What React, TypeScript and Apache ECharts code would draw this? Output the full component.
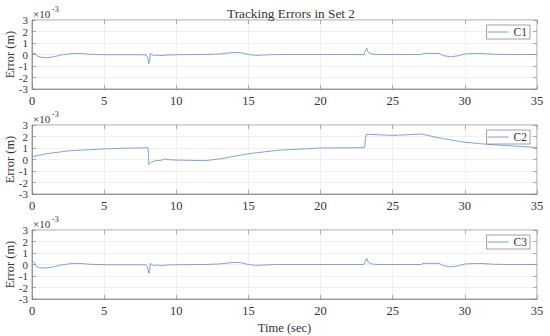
import React, { useEffect, useRef } from "react";
import * as echarts from "echarts";

const TITLE = "Tracking Errors in Set 2";
const X_LABEL = "Time (sec)";
const Y_LABEL = "Error (m)";
const SERIES_NAMES = ["C1", "C2", "C3"];
const X_TICKS = [0, 5, 10, 15, 20, 25, 30, 35];
const Y_TICKS = [-3, -2, -1, 0, 1, 2, 3];

// values in units of 1e-3 m
const C1_T = [0, 0.2, 0.4, 0.7, 1.0, 1.5, 2.0, 2.5, 3.0, 3.5, 4.0, 5.0, 6.0, 7.0, 7.9, 8.0, 8.1, 8.15, 8.2, 8.3, 8.5, 8.7, 9.0, 9.3, 10, 12, 13, 14, 14.5, 15, 15.5, 16, 17, 20, 23, 23.1, 23.2, 23.3, 23.5, 24, 27, 27.1, 28.2, 28.5, 29, 29.5, 30, 31, 32, 33, 35];
const C1_V = [0.1, 0.08, -0.15, -0.25, -0.28, -0.2, -0.05, 0.05, 0.1, 0.08, 0.02, -0.02, -0.02, -0.02, -0.03, -0.2, -0.78, -0.6, 0.1, 0.0, -0.1, -0.05, -0.1, -0.05, -0.02, 0.0, 0.05, 0.18, 0.15, 0.0, -0.08, -0.05, 0.0, 0.0, 0.0, 0.3, 0.55, 0.2, 0.05, 0.0, 0.0, 0.1, 0.1, -0.1, -0.2, -0.12, 0.05, 0.1, 0.02, 0.0, 0.0];

const C2_T = [0, 1, 2.5, 5, 7, 8.05, 8.1, 8.2, 8.3, 8.6, 9.0, 9.2, 9.5, 10, 12, 13, 15, 17, 20, 23.05, 23.15, 23.3, 24, 25, 26, 27, 28, 29, 30, 31, 32, 33, 35];
const C2_V = [0.25, 0.5, 0.75, 0.92, 1.0, 1.02, -0.45, -0.3, -0.2, -0.1, -0.05, 0.05, -0.02, -0.05, -0.1, 0.05, 0.5, 0.8, 1.0, 1.03, 2.15, 2.2, 2.15, 2.1, 2.15, 2.22, 1.93, 1.7, 1.5, 1.38, 1.28, 1.2, 1.05];

const C3_T = [0, 0.1, 0.2, 0.3, 0.5, 1.0, 1.5, 2.0, 2.5, 3.0, 3.5, 4.0, 5.0, 6.0, 7.0, 7.9, 8.0, 8.1, 8.15, 8.2, 8.3, 8.5, 8.7, 9.0, 9.3, 10, 12, 13, 14, 14.5, 15, 15.5, 16, 17, 20, 23, 23.1, 23.2, 23.3, 23.5, 24, 27, 27.1, 28.2, 28.5, 29, 29.5, 30, 31, 32, 33, 35];
const C3_V = [0.15, 0.25, 0.1, -0.15, -0.28, -0.3, -0.2, -0.05, 0.05, 0.1, 0.08, 0.02, -0.02, -0.02, -0.02, -0.03, -0.2, -0.78, -0.6, 0.1, 0.0, -0.1, -0.05, -0.1, -0.05, -0.02, 0.0, 0.05, 0.18, 0.15, 0.0, -0.08, -0.05, 0.0, 0.0, 0.0, 0.3, 0.55, 0.2, 0.05, 0.0, 0.0, 0.1, 0.1, -0.1, -0.2, -0.12, 0.05, 0.1, 0.02, 0.0, 0.0];

const SERIES_T = [C1_T, C2_T, C3_T];
const SERIES_V = [C1_V, C2_V, C3_V];

const FONT = "'Liberation Serif', 'Times New Roman', serif";
const TEXT_COLOR = "#333333";
const LINE_AXIS = "#7a7a7a";
const LINE_COLOR = "#6f9ad0";
const GRID_TOPS = [20, 125, 230];
const GRID_H = 69;
const GRID_LEFT = 32;
const GRID_RIGHT = 13;

export default function App() {
  const ref = useRef<HTMLDivElement>(null);
  useEffect(() => {
    if (!ref.current) return;
    const chart = echarts.init(ref.current, undefined, { renderer: "svg" });

    const grids: any[] = [];
    const xAxes: any[] = [];
    const yAxes: any[] = [];
    const series: any[] = [];
    const legends: any[] = [];
    const graphics: any[] = [];

    const tick = { show: true, inside: true, length: 4, lineStyle: { color: LINE_AXIS, width: 0.6 } };

    GRID_TOPS.forEach((top, i) => {
      grids.push({
        left: GRID_LEFT,
        right: GRID_RIGHT,
        top,
        height: GRID_H,
        show: true,
        borderColor: LINE_AXIS,
        borderWidth: 0.7,
        backgroundColor: "#fff",
        containLabel: false,
        outerBoundsMode: "none",
      });
      xAxes.push({
        type: "value",
        gridIndex: i,
        min: X_TICKS[0],
        max: X_TICKS[X_TICKS.length - 1],
        interval: 5,
        axisLine: { show: true, onZero: false, lineStyle: { color: LINE_AXIS, width: 0.7 } },
        axisTick: tick,
        axisLabel: { color: TEXT_COLOR, fontFamily: FONT, fontSize: 12.5, margin: 5, showMinLabel: true, showMaxLabel: true },
        splitLine: { show: true, lineStyle: { color: "#e6e6e6", width: 0.6 } },
        name: i === 2 ? X_LABEL : "",
        nameLocation: "middle",
        nameGap: 22,
        nameMoveOverlap: false,
        nameTextStyle: { color: TEXT_COLOR, fontFamily: FONT, fontSize: 12.5 },
      });
      xAxes.push({
        type: "value",
        gridIndex: i,
        position: "top",
        min: X_TICKS[0],
        max: X_TICKS[X_TICKS.length - 1],
        interval: 5,
        axisLine: { show: false, onZero: false },
        axisTick: tick,
        axisLabel: { show: false },
        splitLine: { show: false },
      });
      yAxes.push({
        type: "value",
        gridIndex: i,
        min: Y_TICKS[0],
        max: Y_TICKS[Y_TICKS.length - 1],
        interval: 1,
        axisLine: { show: true, onZero: false, lineStyle: { color: LINE_AXIS, width: 0.7 } },
        axisTick: tick,
        axisLabel: {
          color: TEXT_COLOR, fontFamily: FONT, fontSize: 11, lineHeight: 9, margin: 4,
          showMinLabel: true, showMaxLabel: true, hideOverlap: false,
        },
        splitLine: { show: true, lineStyle: { color: "#e6e6e6", width: 0.6 } },
      });
      yAxes.push({
        type: "value",
        gridIndex: i,
        position: "right",
        min: Y_TICKS[0],
        max: Y_TICKS[Y_TICKS.length - 1],
        interval: 1,
        axisLine: { show: false, onZero: false },
        axisTick: tick,
        axisLabel: { show: false },
        splitLine: { show: false },
      });
      const t = SERIES_T[i];
      const v = SERIES_V[i];
      series.push({
        name: SERIES_NAMES[i],
        type: "line",
        xAxisIndex: i * 2,
        yAxisIndex: i * 2,
        data: t.map((x, k) => [x, v[k]]),
        showSymbol: false,
        symbol: "none",
        lineStyle: { color: LINE_COLOR, width: 0.9 },
        itemStyle: { color: LINE_COLOR },
      });
      legends.push({
        data: [{ name: SERIES_NAMES[i], icon: "path://M0,0 L20,0 L20,0.9 L0,0.9 Z" }],
        right: 20,
        top: top + 5,
        orient: "vertical",
        backgroundColor: "#fff",
        borderColor: LINE_AXIS,
        borderWidth: 0.7,
        borderRadius: 0,
        padding: [1, 3, 1, 1],
        itemWidth: 21,
        itemHeight: 10,
        itemGap: 4,
        textStyle: { color: TEXT_COLOR, fontFamily: FONT, fontSize: 11.5 },
      });
      graphics.push({
        type: "text",
        x: 10,
        y: top + GRID_H / 2,
        rotation: Math.PI / 2,
        style: { text: Y_LABEL, fill: TEXT_COLOR, font: `12.5px ${FONT}`, align: "center", verticalAlign: "middle" },
      });
      graphics.push({
        type: "text",
        left: 33,
        top: top - 12,
        style: { text: "×10", fill: TEXT_COLOR, font: `11px ${FONT}` },
      });
      graphics.push({
        type: "text",
        left: 52,
        top: top - 15,
        style: { text: "-3", fill: TEXT_COLOR, font: `8px ${FONT}` },
      });
    });

    chart.setOption({
      animation: false,
      backgroundColor: "#fff",
      title: {
        text: TITLE,
        left: 286,
        textAlign: "center",
        top: 2,
        textStyle: { color: TEXT_COLOR, fontFamily: FONT, fontSize: 13.3, fontWeight: "normal" },
      },
      grid: grids,
      xAxis: xAxes,
      yAxis: yAxes,
      series,
      legend: legends,
      graphic: graphics,
    });
    return () => chart.dispose();
  }, []);
  return <div ref={ref} style={{ width: 550, height: 336, position: "absolute", left: 0, top: 0 }} />;
}
